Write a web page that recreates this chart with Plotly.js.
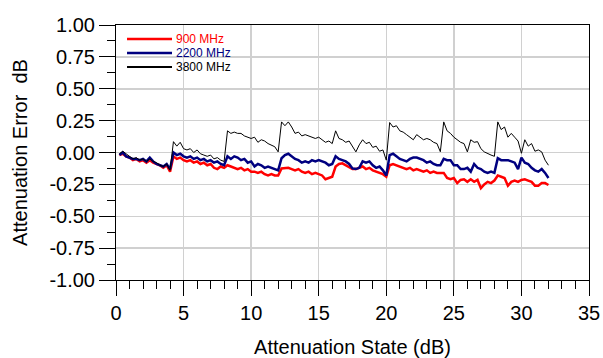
<!DOCTYPE html>
<html>
<head>
<meta charset="utf-8">
<script src="https://cdn.plot.ly/plotly-3.0.1.min.js"></script>
<style>html,body{margin:0;padding:0;background:#fff;}#chart{width:603px;height:358px;}</style>
</head>
<body>
<div id="chart"></div>
<script>
// Attenuation states (dB)
const states = [
  0.25,0.5,0.75,1,1.25,1.5,1.75,2,2.25,2.5,2.75,3,3.25,3.5,3.75,4,
  4.25,4.5,4.75,5,5.25,5.5,5.75,6,6.25,6.5,6.75,7,7.25,7.5,7.75,8,
  8.25,8.5,8.75,9,9.25,9.5,9.75,10,10.25,10.5,10.75,11,11.25,11.5,11.75,12,
  12.25,12.5,12.75,13,13.25,13.5,13.75,14,14.25,14.5,14.75,15,15.25,15.5,15.75,16,
  16.25,16.5,16.75,17,17.25,17.5,17.75,18,18.25,18.5,18.75,19,19.25,19.5,19.75,20,
  20.25,20.5,20.75,21,21.25,21.5,21.75,22,22.25,22.5,22.75,23,23.25,23.5,23.75,24,
  24.25,24.5,24.75,25,25.25,25.5,25.75,26,26.25,26.5,26.75,27,27.25,27.5,27.75,28,
  28.25,28.5,28.75,29,29.25,29.5,29.75,30,30.25,30.5,30.75,31,31.25,31.5,31.75,32
];

// Attenuation error (dB) per frequency
const err900 = [
  -0.02,-0.01,-0.03,-0.04,-0.06,-0.05,-0.07,-0.06,-0.08,-0.06,-0.08,-0.09,-0.10,-0.12,-0.10,-0.15,
  -0.03,-0.05,-0.04,-0.06,-0.07,-0.06,-0.08,-0.07,-0.09,-0.08,-0.10,-0.09,-0.12,-0.13,-0.11,-0.12,
  -0.10,-0.11,-0.12,-0.13,-0.12,-0.14,-0.13,-0.15,-0.15,-0.16,-0.15,-0.17,-0.18,-0.17,-0.18,-0.18,
  -0.125,-0.12,-0.12,-0.13,-0.14,-0.13,-0.15,-0.16,-0.15,-0.17,-0.16,-0.17,-0.18,-0.21,-0.20,-0.19,
  -0.11,-0.09,-0.085,-0.10,-0.11,-0.13,-0.13,-0.12,-0.11,-0.13,-0.12,-0.14,-0.15,-0.16,-0.17,-0.19,
  -0.10,-0.09,-0.10,-0.11,-0.12,-0.13,-0.12,-0.14,-0.13,-0.14,-0.15,-0.14,-0.16,-0.15,-0.16,-0.16,
  -0.16,-0.20,-0.21,-0.20,-0.24,-0.215,-0.21,-0.23,-0.21,-0.23,-0.215,-0.28,-0.25,-0.23,-0.24,-0.22,
  -0.18,-0.19,-0.20,-0.26,-0.23,-0.22,-0.23,-0.215,-0.21,-0.22,-0.23,-0.26,-0.26,-0.24,-0.24,-0.255
];
const err2200 = [
  -0.02,0.00,-0.03,-0.04,-0.05,-0.05,-0.06,-0.05,-0.07,-0.04,-0.07,-0.09,-0.10,-0.11,-0.09,-0.13,
  0.00,-0.02,-0.01,-0.03,-0.04,-0.03,-0.05,-0.04,-0.06,-0.05,-0.07,-0.06,-0.08,-0.07,-0.09,-0.10,
  -0.03,-0.05,-0.03,-0.04,-0.06,-0.05,-0.08,-0.07,-0.11,-0.09,-0.10,-0.12,-0.11,-0.12,-0.13,-0.14,
  -0.045,-0.02,-0.01,-0.03,-0.05,-0.06,-0.08,-0.07,-0.08,-0.06,-0.07,-0.06,-0.07,-0.08,-0.10,-0.09,
  -0.03,-0.05,-0.06,-0.07,-0.09,-0.125,-0.13,-0.12,-0.07,-0.08,-0.07,-0.10,-0.12,-0.11,-0.14,-0.18,
  -0.02,-0.01,-0.03,-0.05,-0.06,-0.07,-0.05,-0.04,-0.04,-0.05,-0.06,-0.08,-0.07,-0.09,-0.10,-0.10,
  -0.05,-0.06,-0.06,-0.10,-0.10,-0.13,-0.13,-0.12,-0.15,-0.09,-0.12,-0.13,-0.15,-0.16,-0.15,-0.16,
  -0.045,-0.06,-0.06,-0.06,-0.07,-0.08,-0.13,-0.04,-0.08,-0.09,-0.12,-0.14,-0.15,-0.13,-0.16,-0.20
];
const err3800 = [
  -0.01,0.01,-0.01,-0.03,-0.05,-0.04,-0.06,-0.05,-0.07,-0.05,-0.07,-0.08,-0.10,-0.11,-0.09,-0.14,
  0.085,0.05,0.08,0.03,0.02,0.03,0.00,0.02,-0.01,-0.02,-0.03,-0.02,-0.05,-0.04,-0.06,-0.07,
  0.17,0.15,0.16,0.15,0.15,0.13,0.12,0.11,0.12,0.08,0.10,0.09,0.07,0.06,0.045,0.005,
  0.24,0.21,0.24,0.20,0.15,0.16,0.13,0.14,0.13,0.12,0.11,0.12,0.10,0.08,0.09,0.07,
  0.17,0.11,0.10,0.08,0.09,0.05,0.005,0.06,0.10,0.07,0.08,0.04,0.05,0.01,0.02,-0.06,
  0.235,0.20,0.21,0.17,0.16,0.14,0.12,0.10,0.14,0.12,0.10,0.11,0.10,0.08,0.07,0.006,
  0.24,0.17,0.15,0.12,0.10,0.08,0.07,0.005,0.10,0.08,0.085,0.03,0.005,-0.01,-0.02,-0.03,
  0.24,0.18,0.20,0.12,0.15,0.12,0.09,-0.006,0.10,0.05,0.07,0.01,0.02,0.005,-0.06,-0.10
];

const seriesNames = ['900 MHz', '2200 MHz', '3800 MHz'];
const seriesColors = ['#ff0000', '#000080', '#000000'];
const seriesWidths = [2.5, 2.5, 1];
const seriesData = [err900, err2200, err3800];

const xTickVals = [0, 5, 10, 15, 20, 25, 30, 35];
const yTickVals = [1, 0.75, 0.5, 0.25, 0, -0.25, -0.5, -0.75, -1];
const yTickText = ['1.00', '0.75', '0.50', '0.25', '0.00', '-0.25', '-0.50', '-0.75', '-1.00'];

const FONT = 'Liberation Sans, Arial, sans-serif';

const traces = seriesData.map((d, i) => ({
  x: states, y: d, type: 'scatter', mode: 'lines', name: seriesNames[i],
  line: {color: seriesColors[i], width: seriesWidths[i]}, showlegend: false
}));

// manual legend (line sample + coloured label)
const legRowsY = [0.945, 0.890, 0.835];
const shapes = [];
const annotations = [];
seriesNames.forEach((n, i) => {
  shapes.push({type: 'line', xref: 'paper', yref: 'paper', x0: 0.0233, x1: 0.1184,
    y0: legRowsY[i], y1: legRowsY[i], line: {color: seriesColors[i], width: i === 2 ? 2 : 2.5}});
  annotations.push({xref: 'paper', yref: 'paper', x: 0.122, y: legRowsY[i], xanchor: 'left', yanchor: 'middle',
    text: n, showarrow: false, font: {family: FONT, size: 12, color: seriesColors[i]}});
});

const layout = {
  width: 603, height: 358,
  margin: {l: 116, r: 14, t: 25, b: 78, pad: 0},
  paper_bgcolor: '#fff', plot_bgcolor: '#fff',
  font: {family: FONT, size: 20, color: '#000'},
  showlegend: false,
  xaxis: {
    range: [0, 35], tickvals: xTickVals, ticks: 'outside', ticklen: 15, tickwidth: 1, tickcolor: '#000',
    showline: true, linecolor: '#000', linewidth: 1, mirror: true,
    showgrid: true, gridcolor: '#d0d0d0', gridwidth: 1.5, zeroline: false,
    tickfont: {family: FONT, size: 20, color: '#000'},
    minor: {dtick: 1, ticks: 'outside', ticklen: 8, tickwidth: 1, tickcolor: '#000', showgrid: false},
    title: {text: 'Attenuation State (dB)', font: {family: FONT, size: 20, color: '#000'}, standoff: 16}
  },
  yaxis: {
    range: [-1, 1], tickvals: yTickVals, ticktext: yTickText, ticks: 'outside', ticklen: 16, tickwidth: 1, tickcolor: '#000',
    showline: true, linecolor: '#000', linewidth: 1, mirror: true,
    showgrid: true, gridcolor: '#d0d0d0', gridwidth: 1.5, zeroline: false,
    tickfont: {family: FONT, size: 20, color: '#000'},
    minor: {dtick: 0.125, ticks: 'outside', ticklen: 8, tickwidth: 1, tickcolor: '#000', showgrid: false},
    title: {text: 'Attenuation Error  dB', font: {family: FONT, size: 20, color: '#000'}, standoff: 16}
  },
  shapes: shapes,
  annotations: annotations
};

Plotly.newPlot('chart', traces, layout, {displayModeBar: false, staticPlot: true});
</script>
</body>
</html>
